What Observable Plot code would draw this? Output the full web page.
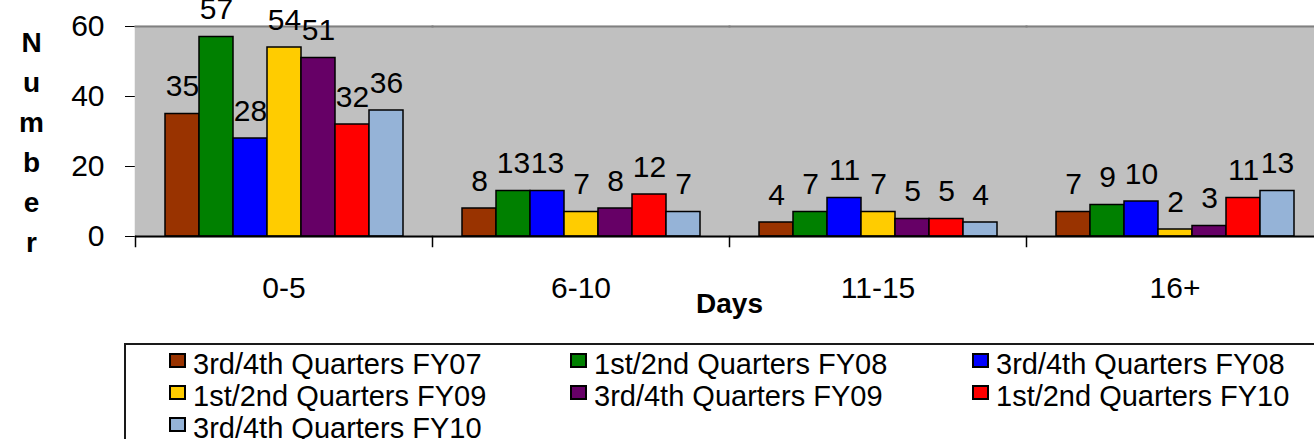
<!DOCTYPE html>
<html><head><meta charset="utf-8">
<script src="https://cdn.jsdelivr.net/npm/d3@7"></script>
<script src="https://cdn.jsdelivr.net/npm/@observablehq/plot@0.6"></script>
<style>
body{margin:0;background:#fff;font-family:"Liberation Sans",Arial,sans-serif;}
#wrap{position:relative;width:1314px;height:439px;overflow:hidden;}
#chart svg{display:block;}
g[aria-label="fx-axis label"] text{font-weight:bold;font-size:28px;}
#legend{position:absolute;left:124px;top:343px;width:1300px;height:130px;border:2px solid #1a1a1a;box-sizing:border-box;}
.item{position:absolute;height:32px;line-height:32px;font-size:29px;white-space:nowrap;color:#000;}
.sw{position:absolute;left:0;top:5px;width:17px;height:15px;border:2px solid #000;box-sizing:border-box;}
.lbl{position:absolute;left:24px;top:0;}
</style></head><body>
<div id="wrap"><div id="chart"></div><div id="legend"></div></div>
<script>
// ---- data ----
const categories = ["0-5", "6-10", "11-15", "16+"];
const seriesNames = [
  "3rd/4th Quarters FY07", "1st/2nd Quarters FY08", "3rd/4th Quarters FY08",
  "1st/2nd Quarters FY09", "3rd/4th Quarters FY09", "1st/2nd Quarters FY10",
  "3rd/4th Quarters FY10"
];
const seriesColors = ["#993300", "#008000", "#0000FF", "#FFCC00", "#660066", "#FF0000", "#95B3D7"];
const q34FY07 = [35, 8, 4, 7];
const q12FY08 = [57, 13, 7, 9];
const q34FY08 = [28, 13, 11, 10];
const q12FY09 = [54, 7, 7, 2];
const q34FY09 = [51, 8, 5, 3];
const q12FY10 = [32, 12, 5, 11];
const q34FY10 = [36, 7, 4, 13];
const yTicks = [0, 20, 40, 60];
const yLabel = "Number";
const xLabel = "Days";

const seriesValues = [q34FY07, q12FY08, q34FY08, q12FY09, q34FY09, q12FY10, q34FY10];
const data = categories.flatMap((c, ci) =>
  seriesNames.map((s, si) => ({days: c, series: s, value: seriesValues[si][ci]})));

const plotHeight = 210;
const chart = Plot.plot({
  width: 1314,
  height: 330,
  marginLeft: 134,
  marginRight: -10,
  marginTop: 26,
  marginBottom: 94,
  style: {fontFamily: "'Liberation Sans', Arial, sans-serif", fontSize: "30px", color: "#000", background: "transparent"},
  fx: {domain: categories, padding: 0, axis: "bottom", label: xLabel, labelAnchor: "center", tickSize: 0, tickPadding: 40, labelOffset: 76},
  x: {domain: seriesNames, paddingInner: 0, paddingOuter: 0.757, axis: null},
  y: {domain: [0, 60], ticks: yTicks, tickSize: 10, tickPadding: 21, label: null, line: true},
  color: {domain: seriesNames, range: seriesColors},
  marks: [
    Plot.frame({fill: "#C0C0C0", stroke: "#C0C0C0", strokeWidth: 1.5}),
    Plot.frame({anchor: "top", stroke: "#808080", strokeWidth: 2}),
    Plot.frame({anchor: "left", insetTop: plotHeight, insetBottom: -10, stroke: "#000", strokeWidth: 1.5}),
    Plot.barY(data, {fx: "days", x: "series", y: "value", fill: "series", stroke: "#000", strokeWidth: 1.5}),
    Plot.text(data, {fx: "days", x: "series", y: "value", text: d => String(d.value), lineAnchor: "bottom", dy: -18, fontSize: 30, fill: "#000"}),
    Plot.ruleY([0], {stroke: "#000", strokeWidth: 2}),
    Plot.text([categories[0]], {fx: d => d, text: () => yLabel.split("").join("\n"), frameAnchor: "top-left", textAnchor: "middle", lineAnchor: "top", lineHeight: 1.43, dx: -104, dy: -3, fontSize: 28, fontWeight: "bold", fill: "#000"})
  ]
});
document.getElementById("chart").appendChild(chart);

// ---- legend ----
const legend = document.getElementById("legend");
const colLefts = [43, 444, 846];
const rowTops = [3, 35, 67];
seriesNames.forEach((s, i) => {
  const item = document.createElement("div");
  item.className = "item";
  item.style.left = colLefts[i % 3] + "px";
  item.style.top = rowTops[Math.floor(i / 3)] + "px";
  const sw = document.createElement("span");
  sw.className = "sw";
  sw.style.background = seriesColors[i];
  const lbl = document.createElement("span");
  lbl.className = "lbl";
  lbl.textContent = s;
  item.appendChild(sw);
  item.appendChild(lbl);
  legend.appendChild(item);
});
</script>
</body></html>
